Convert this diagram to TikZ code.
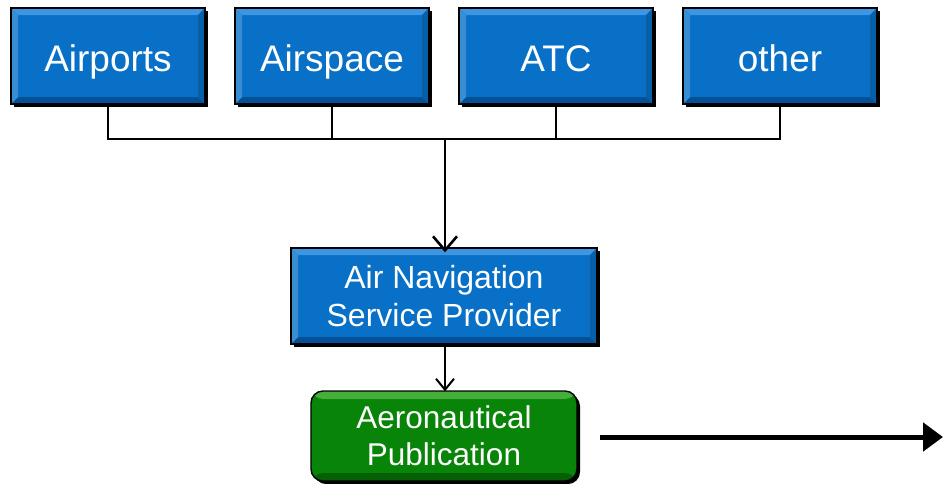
\documentclass[tikz,border=0pt]{standalone}
\usepackage{fontspec}
\setmainfont{Liberation Sans}
\usetikzlibrary{arrows.meta,calc,shadows}
\definecolor{boxblue}{RGB}{8,112,198}
\definecolor{bevlight}{RGB}{60,150,225}
\definecolor{bevdark}{RGB}{5,80,150}
\definecolor{boxgreen}{RGB}{8,132,8}
\definecolor{greenlight}{RGB}{70,175,60}
\definecolor{greendark}{RGB}{5,95,5}
\tikzset{
  bluebox/.style={draw=black, line width=1.4pt, fill=boxblue, text=white,
    inner sep=0pt, align=center,
    drop shadow={shadow xshift=3pt, shadow yshift=-3pt, fill=black, opacity=1},
    path picture={
      \fill[bevlight] (path picture bounding box.north west) -- (path picture bounding box.north east)
        -- ($(path picture bounding box.north east)+(-7,7)$) -- ($(path picture bounding box.north west)+(7,7)$) -- cycle;
      \fill[bevdark] (path picture bounding box.south west) -- (path picture bounding box.south east)
        -- ($(path picture bounding box.south east)+(-7,-7)$) -- ($(path picture bounding box.south west)+(7,-7)$) -- cycle;
      \fill[boxblue!85!black] (path picture bounding box.north east) -- (path picture bounding box.south east)
        -- ($(path picture bounding box.south east)+(-7,-7)$) -- ($(path picture bounding box.north east)+(-7,7)$) -- cycle;
      \fill[boxblue!80!white] (path picture bounding box.north west) -- (path picture bounding box.south west)
        -- ($(path picture bounding box.south west)+(7,-7)$) -- ($(path picture bounding box.north west)+(7,7)$) -- cycle;
    }},
  greenbox/.style={draw=black, line width=1.4pt, fill=boxgreen, text=white,
    inner sep=0pt, align=center, rounded corners=12pt,
    drop shadow={shadow xshift=3pt, shadow yshift=-3pt, fill=black, opacity=1},
    path picture={
      \fill[greenlight] (path picture bounding box.north west) rectangle ($(path picture bounding box.north east)+(0,8)$);
      \fill[greendark] (path picture bounding box.south west) rectangle ($(path picture bounding box.south east)+(0,-8)$);
    }},
  toptext/.style={font=\fontsize{37}{40}\selectfont, text height=36pt, text depth=6pt},
  midtext/.style={font=\fontsize{32}{38}\selectfont},
  lowtext/.style={font=\fontsize{31.5}{36}\selectfont},
  bus/.style={draw=black, line width=2.4pt},
  barb/.style={-{Straight Barb[length=14pt,width=24pt,line width=2.6pt]}, line width=2.6pt},
  smallbarb/.style={-{Straight Barb[length=11pt,width=18pt,line width=2pt]}, line width=2pt},
  bigarrow/.style={-{Triangle[length=20pt,width=28pt]}, line width=5pt}
}
\begin{document}
\begin{tikzpicture}[x=1pt,y=-1pt]
\useasboundingbox (0,0) rectangle (943,483);
\fill[white] (0,0) rectangle (943,483);
\node[bluebox, toptext, minimum width=194pt, minimum height=96pt] (airports) at (108,56) {Airports};
\node[bluebox, toptext, minimum width=194pt, minimum height=96pt] (airspace) at (332,56) {Airspace};
\node[bluebox, toptext, minimum width=194pt, minimum height=96pt] (atc) at (556,56) {ATC};
\node[bluebox, toptext, minimum width=194pt, minimum height=96pt] (other) at (780,56) {other};
\node[bluebox, midtext, minimum width=306pt, minimum height=96pt] (ansp) at (444,296) {Air Navigation\\Service Provider};
\node[greenbox, lowtext, minimum width=266pt, minimum height=90pt] (pub) at (444,436) {Aeronautical\\[1pt]Publication};
\coordinate (junction) at (445,139);
\coordinate (outstart) at (600,437);
\coordinate (outend) at (943,437);
\draw[bus] (airports.south) |- (junction);
\draw[bus] (airspace.south) |- (junction);
\draw[bus] (atc.south) |- (junction);
\draw[bus] (other.south) |- (junction);
\draw[barb] (junction) -- ([yshift=-5pt]ansp.north -| junction);
\draw[smallbarb] (ansp.south -| junction) -- ([yshift=-1pt]pub.north -| junction);
\draw[bigarrow] (outstart) -- (outend);
\end{tikzpicture}
\end{document}
